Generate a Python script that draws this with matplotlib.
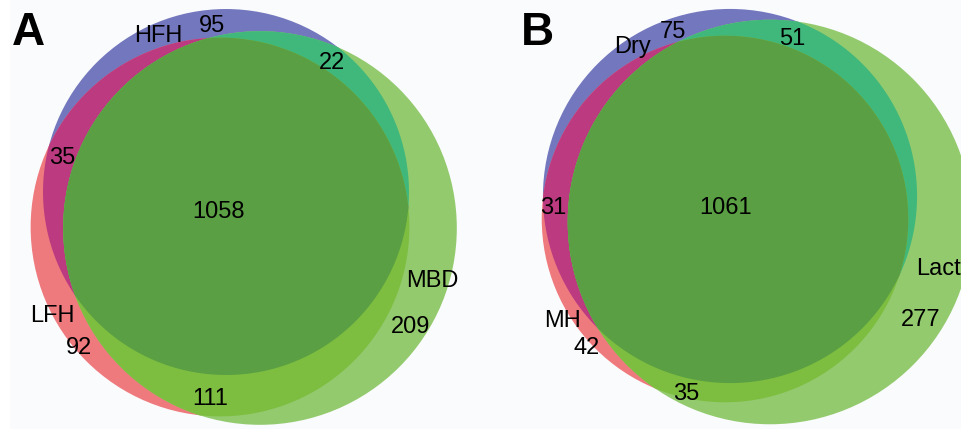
import numpy as np
import matplotlib
matplotlib.use("Agg")
import matplotlib.pyplot as plt
from matplotlib.patches import Circle, Polygon, Rectangle

# Region counts, order: only 1, only 2, only 3, 1&2, 1&3, 2&3, 1&2&3
sets_a = ["HFH", "LFH", "MBD"]
counts_a = [95, 92, 209, 35, 22, 111, 1058]
sets_b = ["Dry", "MH", "Lact"]
counts_b = [75, 42, 277, 31, 51, 35, 1061]
panel_letters = ["A", "B"]

REGION_SETS = [(0,), (1,), (2,), (0, 1), (0, 2), (1, 2), (0, 1, 2)]
REGION_COLORS = ["#7377bd", "#ee7a7e", "#93ca6e", "#bb3a80", "#40b87b", "#7dbe40", "#5a9f43"]

# Layout in pixel space (figure is 961 x 429 px)
LAYOUT = {
    "A": {
        "centers": [(226, 192), (220, 227), (260, 228)],
        "scale": 5.26,
        "letter": (28, 45),
        "set_labels": [(158, 41.5, "center"), (52, 322, "center"), (432, 287, "center")],
        "count_labels": [(212, 31.5), (79, 354), (411, 333), (62, 164), (332, 69), (210, 405), (219, 218)],
    },
    "B": {
        "centers": [(730, 196), (725, 219), (770, 222)],
        "scale": 5.36,
        "letter": (537, 45),
        "set_labels": [(632, 53.5, "center"), (562, 327, "center"), (916, 275, "left")],
        "count_labels": [(673, 37.5), (587, 354), (921, 326.5), (553, 214), (792, 45), (686, 400), (726, 214)],
    },
}


def set_totals(counts):
    return [sum(c for c, mem in zip(counts, REGION_SETS) if i in mem) for i in range(3)]


def intersection_poly(circles, n=3000):
    """Boundary of the intersection of convex circles, as a polygon."""
    pts = []
    t = np.linspace(0, 2 * np.pi, n, endpoint=False)
    for k, (cx, cy, r) in enumerate(circles):
        p = np.column_stack([cx + r * np.cos(t), cy + r * np.sin(t)])
        inside = np.ones(len(p), bool)
        for j, (ox, oy, orr) in enumerate(circles):
            if j != k:
                inside &= (p[:, 0] - ox) ** 2 + (p[:, 1] - oy) ** 2 <= orr ** 2
        pts.append(p[inside])
    pts = np.vstack(pts)
    c = pts.mean(axis=0)
    order = np.argsort(np.arctan2(pts[:, 1] - c[1], pts[:, 0] - c[0]))
    return pts[order]


def draw_venn(ax, names, counts, letter, lay):
    totals = set_totals(counts)
    circles = [(cx, cy, lay["scale"] * np.sqrt(tot)) for (cx, cy), tot in zip(lay["centers"], totals)]

    # single sets
    for i, (cx, cy, r) in enumerate(circles):
        ax.add_patch(Circle((cx, cy), r, facecolor=REGION_COLORS[i], edgecolor="none", zorder=2))
    # overlaps
    for idx in range(3, 7):
        members = REGION_SETS[idx]
        poly = intersection_poly([circles[m] for m in members])
        ax.add_patch(Polygon(poly, closed=True, facecolor=REGION_COLORS[idx],
                             edgecolor="none", zorder=3 + len(members)))

    txt = dict(fontsize=17, family="Liberation Sans", color="black", zorder=10, va="baseline")
    for name, (x, y, ha) in zip(names, lay["set_labels"]):
        ax.text(x, y, name, ha=ha, **txt)
    for c, (x, y) in zip(counts, lay["count_labels"]):
        ax.text(x, y, str(c), ha="center", **txt)
    lx, ly = lay["letter"]
    ax.text(lx, ly, letter, ha="center", va="baseline", fontsize=33, fontweight="bold",
            family="Liberation Sans", color="black", zorder=10)


fig = plt.figure(figsize=(9.61, 4.29), dpi=100)
fig.patch.set_facecolor("white")
ax = fig.add_axes([0, 0, 1, 1])
ax.set_xlim(0, 961)
ax.set_ylim(429, 0)
ax.set_aspect("equal")
ax.axis("off")
ax.add_patch(Rectangle((10, 0), 951, 429, facecolor="#fafbfd", edgecolor="none", zorder=0))

draw_venn(ax, sets_a, counts_a, panel_letters[0], LAYOUT["A"])
draw_venn(ax, sets_b, counts_b, panel_letters[1], LAYOUT["B"])

fig.savefig("out.png", dpi=100)
